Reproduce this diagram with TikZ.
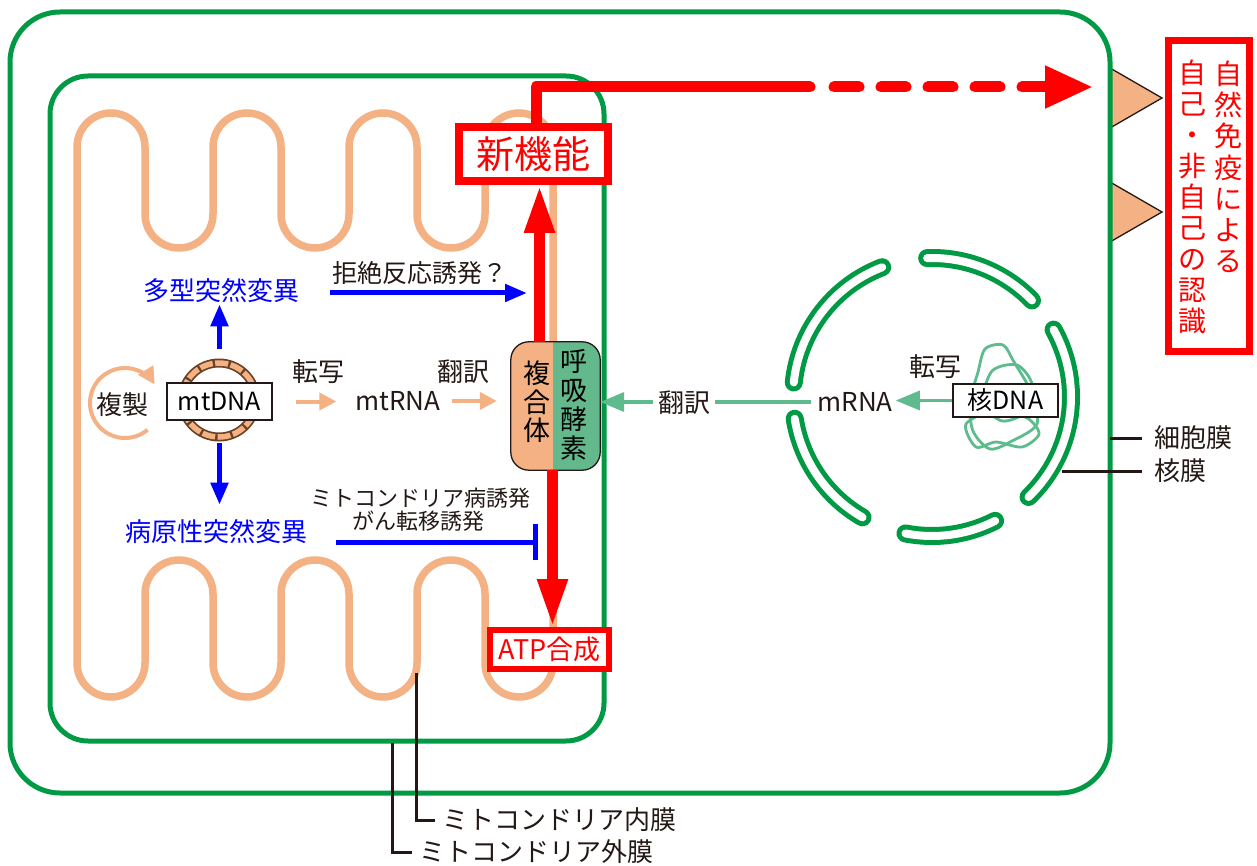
\documentclass[tikz,border=0pt]{standalone}
\usepackage{fontspec}
\setmainfont{Noto Sans CJK JP}
\usetikzlibrary{arrows.meta,calc}

\definecolor{cellgreen}{HTML}{009944}
\definecolor{memorange}{HTML}{F4B183}
\definecolor{enzgreen}{HTML}{64B98C}
\definecolor{dnagreen}{HTML}{5DBB8E}
\definecolor{mutblue}{HTML}{0000FF}
\definecolor{newred}{HTML}{FF0000}
\definecolor{ringbrown}{HTML}{6B4226}
\definecolor{inkblack}{HTML}{231815}

\newcommand{\sz}[1]{\fontsize{#1}{#1}\selectfont}

\begin{document}
\begin{tikzpicture}[x=1pt,y=-1pt,
	membrane/.style={draw=cellgreen,line width=5pt},
	innermem/.style={draw=memorange,line width=7.5pt},
	redbox/.style={draw=newred,fill=white,text=newred,inner sep=0pt},
	txtbox/.style={draw=inkblack,line width=1.3pt,fill=white,inner sep=0pt,font=\sz{25}},
	lbl/.style={text=inkblack,inner sep=1pt,font=\sz{26}},
	mutlbl/.style={text=mutblue,inner sep=1pt,font=\sz{26}},
	vtxt/.style={align=center,inner sep=0pt},
	bluearrow/.style={draw=mutblue,line width=5pt,-{Triangle[length=22pt,width=17pt]}},
	blockarrow/.style={draw=mutblue,line width=5pt,-{Bar[width=36pt]}},
	orarrow/.style={draw=memorange,line width=4pt,-{Triangle[length=17pt,width=17pt]}},
	grarrow/.style={draw=dnagreen,line width=3.5pt,-{Triangle[length=24pt,width=19pt]}},
	redline/.style={draw=newred,line width=11pt},
	redarrow/.style={redline,-{Triangle[length=48pt,width=28pt]}},
	leader/.style={draw=inkblack,line width=3pt},
	envelope/.style={draw=cellgreen,line width=18pt,line cap=round},
	envgap/.style={draw=white,line width=8pt,line cap=round}]
	\useasboundingbox (0,0) rectangle (1257,866);
	% receptors - drawn before the membrane covers their base
	\foreach \ty in {98,212}
		\filldraw[fill=memorange,draw=inkblack,line width=1.3pt] (1110,\ty-30) -- (1162,\ty) -- (1110,\ty+30);
	% cell membrane
	\draw[membrane,rounded corners=50pt] (10,12) rectangle (1110,793);
	% mitochondrion: outer membrane
	\draw[membrane,rounded corners=38pt] (50,76) rectangle (604,741);
	% mitochondrion: inner membrane with cristae
	\draw[innermem] (77,663) -- (77,147)
		arc[start angle=180,end angle=360,radius=34] -- (145,214)
		arc[start angle=180,end angle=0,radius=34] -- (213,147)
		arc[start angle=180,end angle=360,radius=34] -- (281,214)
		arc[start angle=180,end angle=0,radius=34] -- (349,147)
		arc[start angle=180,end angle=360,radius=34] -- (417,214)
		arc[start angle=180,end angle=0,radius=34] -- (485,147)
		arc[start angle=180,end angle=360,radius=34] -- (553,663)
		arc[start angle=0,end angle=180,radius=34] -- (485,594)
		arc[start angle=0,end angle=-180,radius=34] -- (417,663)
		arc[start angle=0,end angle=180,radius=34] -- (349,594)
		arc[start angle=0,end angle=-180,radius=34] -- (281,663)
		arc[start angle=0,end angle=180,radius=34] -- (213,594)
		arc[start angle=0,end angle=-180,radius=34] -- (145,663)
		arc[start angle=0,end angle=180,radius=34] -- cycle;
	% nuclear envelope with pores
	\coordinate (nuc) at (932,397);
	\foreach \a/\b in {-111/-174,-44/-92,46/-29,101/63,-189/-240} {
		\draw[envelope] (nuc) ++(\a:139) arc[start angle=\a,end angle=\b,radius=139];
		\draw[envgap] (nuc) ++(\a:139) arc[start angle=\a,end angle=\b,radius=139];
	}
	% chromatin
	\draw[dnagreen,line width=2.8pt] plot[smooth cycle] coordinates {(985,349) (1003,345) (1014,362) (1031,392) (1037,424) (1012,441) (990,449) (973,431) (970,402) (978,372)};
	\draw[dnagreen,line width=2.8pt] plot[smooth cycle] coordinates {(992,371) (1017,365) (1032,384) (1027,411) (1002,421) (983,402)};
	\draw[dnagreen,line width=2.8pt] plot[smooth cycle] coordinates {(966,424) (996,410) (1027,418) (1039,434) (1022,447) (996,442) (976,447)};
	% mtDNA ring
	\coordinate (mtring) at (219,400);
	\draw[ringbrown,line width=9pt] (mtring) circle[radius=37];
	\draw[memorange,line width=5.5pt,dash pattern=on 13pt off 2.5pt] (mtring) circle[radius=37];

	% respiratory complex, two coloured halves
	\node[minimum width=89pt,minimum height=128pt,inner sep=0pt] (cplx) at (555.5,406) {};
	\begin{scope}
		\clip[rounded corners=18pt] (cplx.south west) rectangle (cplx.north east);
		\fill[memorange] (cplx.south west) rectangle ($(cplx.north)+(-2.5,0)$);
		\fill[enzgreen] ($(cplx.south)+(-2.5,0)$) rectangle (cplx.north east);
	\end{scope}
	\draw[inkblack,line width=1.3pt,rounded corners=18pt] (cplx.south west) rectangle (cplx.north east);
	\node[vtxt,font=\fontsize{27}{28.5}\selectfont] (cplxL) at (537,402) {複\\合\\体};
	\node[vtxt,font=\fontsize{27}{28.7}\selectfont] (cplxR) at (574,405) {呼\\吸\\酵\\素};

	% boxes
	\node[txtbox,minimum width=105pt,minimum height=37pt] (mtdna) at (219.5,401.5) {mtDNA};
	\node[txtbox,minimum width=105pt,minimum height=33pt] (ndna) at (1005.5,400.5) {核DNA};
	\node[redbox,line width=8pt,minimum width=149pt,minimum height=54pt,font=\sz{38}] (newfn) at (533.5,154) {新機能};
	\node[redbox,line width=6pt,minimum width=119pt,minimum height=39pt,font=\sz{27}] (atp) at (549.5,649.5) {ATP合成};
	\node[redbox,line width=7pt,minimum width=81pt,minimum height=311pt] (recog) at (1209,196) {};
	\node[vtxt,text=newred,font=\fontsize{28}{31.2}\selectfont] (recogR) at (1228,167) {自\\然\\免\\疫\\に\\よ\\る};
	\node[vtxt,text=newred,font=\fontsize{28}{31}\selectfont] (recogL) at (1192,197) {自\\己\\・\\非\\自\\己\\の\\認\\識};

	% labels
	\node[lbl] (repl) at (122,405) {複製};
	\node[lbl] (tr1) at (318,372) {転写};
	\node[lbl] (tl1) at (463,372) {翻訳};
	\node[lbl] (mtrna) at (398,401) {mtRNA};
	\node[lbl] (mrna) at (855,402) {mRNA};
	\node[lbl] (tr2) at (935,367) {転写};
	\node[mutlbl] (poly) at (221,291) {多型突然変異};
	\node[mutlbl] (patho) at (216,532) {病原性突然変異};
	\node[lbl,font=\sz{25}] (reject) at (420,273) {拒絶反応誘発？};
	\node[lbl,font=\sz{22}] (disease) at (420,498) {ミトコンドリア病誘発};
	\node[lbl,font=\sz{22}] (cancer) at (418,521) {がん転移誘発};

	% replication
	\draw[orarrow] ($(repl.center)+(3,-2)$) ++(50:35) arc[start angle=50,end angle=328,radius=35];
	% transcription and translation
	\draw[orarrow] ($(mtdna.east)+(23,0)$) -- ($(mtdna.east -| mtrna.west)+(-18,0)$);
	\draw[orarrow] ($(mtrna.east)+(10,0)$) -- ($(mtrna.east -| cplx.west)+(-14,0)$);
	\draw[grarrow] (ndna.west) -- ($(ndna.west -| mrna.east)+(2,0)$);
	\draw[grarrow] ($(mrna.west)+(-5,0)$) -- (mrna.west -| cplx.east);
	\node[lbl,fill=white,inner xsep=5pt] (tl2) at (684,403) {翻訳};

	% mutations
	\coordinate (rejtip) at (527,293);
	\coordinate (blocktip) at (538,542);
	\draw[bluearrow] ($(mtdna.north)+(0,-33)$) -- (mtdna.north |- poly.south);
	\draw[bluearrow] ($(mtdna.south)+(0,22)$) -- ($(mtdna.south |- patho.north)+(0,-14)$);
	\draw[bluearrow] ($(poly.east |- rejtip)+(30,0)$) -- (rejtip);
	\draw[blockarrow] ($(patho.east |- blocktip)+(28,0)$) -- (blocktip);

	% new function and ATP synthesis
	\draw[redarrow] ($(cplx.north)+(-16,0)$) -- ($(cplx.north |- newfn.south)+(-16,0)$);
	\draw[redarrow] ($(cplx.south)+(-3,0)$) -- ($(cplx.south |- atp.north)+(-3,0)$);
	\coordinate (dashstart) at (810,87);
	\coordinate (dashgo) at (834,87);
	\coordinate (immune) at (1093,87);
	\draw[redline,line join=round,line cap=round] ($(newfn.north)+(2.5,0)$) |- (dashstart);
	\draw[redline,line cap=round,dash pattern=on 25pt off 22pt,-{Triangle[length=48pt,width=40pt]}] (dashgo) -- (immune);

	% membrane names
	\coordinate (cellpt) at (1110,438);
	\coordinate (nucpt) at (1062,471);
	\node[lbl,anchor=west,inner xsep=12pt] (cellm) at (1142,438) {細胞膜};
	\node[lbl,anchor=west,inner xsep=12pt] (nucm) at (1142,471) {核膜};
	\draw[leader] (cellpt) -- (cellm.west);
	\draw[leader] (nucpt) -- (nucm.west);
	\coordinate (innerpt) at (416,673);
	\coordinate (outerpt) at (392,743);
	\node[lbl,anchor=west,inner xsep=7pt] (innerm) at (435,820) {ミトコンドリア内膜};
	\node[lbl,anchor=west,inner xsep=7pt] (outerm) at (412,852) {ミトコンドリア外膜};
	\draw[leader] (innerpt) |- (innerm.west);
	\draw[leader] (outerpt) |- (outerm.west);
\end{tikzpicture}
\end{document}
